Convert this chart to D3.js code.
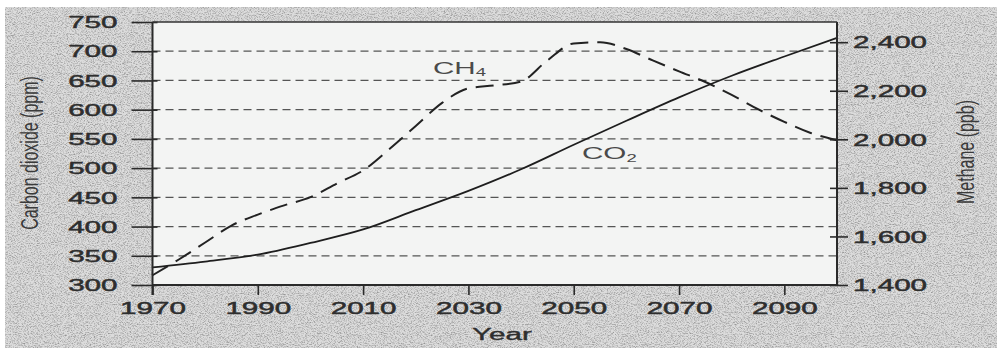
<!DOCTYPE html>
<html>
<head>
<meta charset="utf-8">
<script src="https://cdn.jsdelivr.net/npm/d3@7"></script>
<style>
  html, body { margin: 0; padding: 0; background: #ffffff; }
  svg { display: block; }
  text { font-family: "Liberation Sans", Arial, Helvetica, sans-serif; }
</style>
</head>
<body>
<svg id="chart" width="997" height="348"></svg>
<script>
// ---- data ----
const co2Years = [1970, 1980, 1990, 2000, 2010, 2020, 2030, 2040, 2050, 2060, 2070, 2080, 2090, 2100];
const co2Values = [330, 340, 352, 372, 395, 428, 461, 498, 540, 581, 621, 658, 691, 723];

const ch4Years = [1970, 1975, 1980, 1985, 1990, 1995, 2000, 2005, 2010, 2015, 2020, 2025, 2030, 2035, 2040, 2045, 2050, 2055, 2060, 2065, 2070, 2075, 2080, 2085, 2090, 2095, 2100];
const ch4Values = [1440, 1505, 1575, 1645, 1690, 1728, 1762, 1818, 1872, 1960, 2055, 2150, 2210, 2222, 2238, 2325, 2395, 2400, 2372, 2325, 2280, 2236, 2183, 2124, 2072, 2026, 1996];

const xTicks = [1970, 1990, 2010, 2030, 2050, 2070, 2090];
const leftTicks = [300, 350, 400, 450, 500, 550, 600, 650, 700, 750];
const rightTicks = [1400, 1600, 1800, 2000, 2200, 2400];
const gridValues = [350, 400, 450, 500, 550, 600, 650, 700];

const xTitle = "Year";
const leftTitle = "Carbon dioxide (ppm)";
const rightTitle = "Methane (ppb)";

// ---- layout ----
const plot = { left: 152.5, right: 837, top: 22, bottom: 285 };
const SX = 1.85; // horizontal stretch of lettering

const svg = d3.select("#chart");

const defs = svg.append("defs");
const f = defs.append("filter").attr("id", "noise")
  .attr("x", 0).attr("y", 0).attr("width", 1).attr("height", 1);
f.append("feTurbulence").attr("type", "fractalNoise")
  .attr("baseFrequency", "0.7 1.1").attr("numOctaves", 2).attr("seed", 7);
f.append("feColorMatrix").attr("type", "matrix")
  .attr("values", "0 0 0 0 0.3  0 0 0 0 0.3  0 0 0 0 0.3  -2.4 0 0 0 1.38");

// background
svg.append("rect").attr("x", 0).attr("y", 0).attr("width", 997).attr("height", 348).attr("fill", "#ffffff");
svg.append("rect").attr("x", 5).attr("y", 7).attr("width", 992).attr("height", 341).attr("fill", "#dcdcdc");
svg.append("rect").attr("x", 5).attr("y", 7).attr("width", 992).attr("height", 341)
  .attr("filter", "url(#noise)");

// plot area
svg.append("rect")
  .attr("x", plot.left).attr("y", plot.top)
  .attr("width", plot.right - plot.left).attr("height", plot.bottom - plot.top)
  .attr("fill", "#f3f4f3");

// scales
const x = d3.scaleLinear().domain([1970, 2100]).range([plot.left, plot.right]);
const yL = d3.scaleLinear().domain([300, 750]).range([plot.bottom, plot.top]);
const yR = d3.scaleLinear().domain([1400, 2400]).range([plot.bottom, 42.2]);

// gridlines
svg.append("g").selectAll("line").data(gridValues).join("line")
  .attr("x1", plot.left).attr("x2", plot.right)
  .attr("y1", d => yL(d)).attr("y2", d => yL(d))
  .attr("stroke", "#555").attr("stroke-width", 1.3)
  .attr("stroke-dasharray", "8,5");

// lines
const co2Data = co2Years.map((yr, i) => [yr, co2Values[i]]);
const ch4Data = ch4Years.map((yr, i) => [yr, ch4Values[i]]);

svg.append("path").datum(ch4Data)
  .attr("fill", "none").attr("stroke", "#222").attr("stroke-width", 2)
  .attr("stroke-dasharray", "18,9")
  .attr("d", d3.line().x(d => x(d[0])).y(d => yR(d[1])).curve(d3.curveMonotoneX));

svg.append("path").datum(co2Data)
  .attr("fill", "none").attr("stroke", "#1e1e1e").attr("stroke-width", 1.8)
  .attr("d", d3.line().x(d => x(d[0])).y(d => yL(d[1])).curve(d3.curveMonotoneX));

// axes
const tickColor = "#2e2e2e";
const labelColor = "#3a3a3a";

const gL = svg.append("g").attr("transform", `translate(${plot.left},0)`)
  .call(d3.axisLeft(yL).tickValues(leftTicks).tickSize(21).tickSizeOuter(0).tickFormat(d3.format("d")));
gL.selectAll(".tick line").attr("x1", 5);
gL.selectAll(".tick text").attr("x", null).attr("dy", "0.36em")
  .attr("transform", `translate(-35,0) scale(${SX},1)`);

const gR = svg.append("g").attr("transform", `translate(${plot.right},0)`)
  .call(d3.axisRight(yR).tickValues(rightTicks).tickSize(11).tickSizeOuter(0).tickFormat(d3.format(",")));
gR.selectAll(".tick line").attr("x1", -7);
gR.selectAll(".tick text").attr("x", null).attr("dy", "0.36em")
  .attr("transform", `translate(16,0) scale(${SX},1)`);
gR.select(".domain").attr("d", `M0,${plot.top}V${plot.bottom}`);

const gB = svg.append("g").attr("transform", `translate(0,${plot.bottom})`)
  .call(d3.axisBottom(x).tickValues(xTicks).tickSize(10).tickSizeOuter(0).tickFormat(d3.format("d")));
gB.selectAll(".tick text").attr("y", 18).attr("transform", `scale(${SX},1)`);
gB.select(".domain").attr("d", `M${plot.left},0H${plot.right}`);

// top border
svg.append("line").attr("x1", plot.left).attr("x2", plot.right)
  .attr("y1", plot.top).attr("y2", plot.top)
  .attr("stroke", "#333").attr("stroke-width", 1.5);

[gL, gR, gB].forEach(g => {
  g.selectAll(".domain").attr("stroke", "#2a2a2a").attr("stroke-width", 2);
  g.selectAll(".tick line").attr("stroke", "#2a2a2a").attr("stroke-width", 1.6);
  g.selectAll(".tick text").attr("fill", tickColor).attr("font-size", 16)
    .attr("stroke", tickColor).attr("stroke-width", 0.45)
    .attr("font-family", "'Liberation Sans', Arial, sans-serif");
});
gL.select(".domain").attr("d", `M0,${plot.top}V${plot.bottom + 10}`);

// titles
svg.append("text").text(xTitle)
  .attr("transform", `translate(502,340) scale(${SX},1)`)
  .attr("text-anchor", "middle").attr("font-size", 16).attr("fill", tickColor)
  .attr("stroke", tickColor).attr("stroke-width", 0.35);

svg.append("text").text(leftTitle)
  .attr("transform", `translate(38,153) scale(1.5,1) rotate(-90)`)
  .attr("text-anchor", "middle").attr("font-size", 16).attr("fill", labelColor);

svg.append("text").text(rightTitle)
  .attr("transform", `translate(974,152) scale(1.5,1) rotate(-90)`)
  .attr("text-anchor", "middle").attr("font-size", 16).attr("fill", labelColor);

// series labels
const ch4Label = svg.append("text")
  .attr("transform", `translate(433,73.5) scale(${SX},1)`)
  .attr("font-size", 16).attr("fill", "#4a4a4a");
ch4Label.append("tspan").text("CH");
ch4Label.append("tspan").text("4").attr("font-size", 10).attr("dy", 2);

const co2Label = svg.append("text")
  .attr("transform", `translate(582,159) scale(${SX},1)`)
  .attr("font-size", 16).attr("fill", "#4a4a4a");
co2Label.append("tspan").text("CO");
co2Label.append("tspan").text("2").attr("font-size", 10).attr("dy", 3);
</script>
</body>
</html>
